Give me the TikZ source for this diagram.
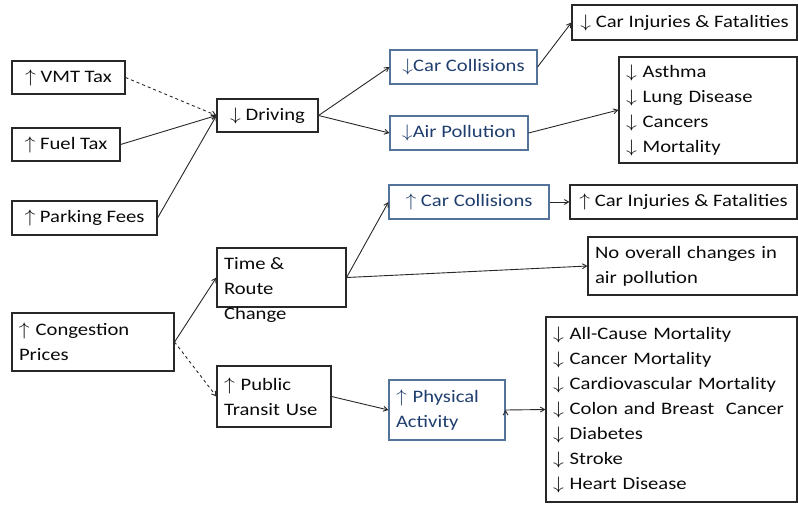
\documentclass[tikz,border=0pt]{standalone}
\usepackage{fontspec}
\setmainfont{Carlito}[FakeStretch=1.18]
\usetikzlibrary{arrows}
\definecolor{linegray}{RGB}{40,40,40}
\definecolor{textblack}{RGB}{10,10,10}
\definecolor{blueline}{RGB}{84,115,155}
\definecolor{bluetext}{RGB}{31,62,110}
\newcommand{\upar}{\scalebox{1.25}[1.05]{$\uparrow$}}
\newcommand{\dnar}{\scalebox{1.25}[1.05]{$\downarrow$}}
\tikzstyle{every picture}+=[>=angle 60]
\tikzstyle{every picture}+=[line width=1.1pt]
\tikzstyle{box}=[draw=linegray, inner xsep=7pt, inner ysep=0pt]
\tikzstyle{box}+=[text=textblack, font=\fontsize{17.5}{25}\selectfont]
\tikzstyle{bluebox}=[box, draw=blueline, text=bluetext]
\tikzstyle{list}=[box, align=left]
\tikzstyle{link}=[->, draw=linegray, line width=0.9pt]

\begin{document}
\begin{tikzpicture}[x=1pt,y=-1pt]
\useasboundingbox (0,0) rectangle (798,504);
% pricing policies
\node[box, minimum width=113, minimum height=33] (vmt) at (68.5,77.5) {\upar\ VMT Tax};
\node[box, minimum width=108, minimum height=33] (fuel) at (66,144.5) {\upar\ Fuel Tax};
\node[box, minimum width=145, minimum height=34] (park) at (84.5,218) {\upar\ Parking Fees};
\node[list, text width=148, minimum height=58] (cong) at (93,342) {\upar\ Congestion\\Prices};

% driving branch
\node[box, minimum width=101, minimum height=33] (drive) at (267.5,115.5) {\dnar\ Driving};
\node[bluebox, minimum width=147, minimum height=34] (collA) at (463.5,67) {\dnar Car Collisions};
\node[bluebox, minimum width=138, minimum height=34] (airA) at (459,133) {\dnar Air Pollution};
\node[box, minimum width=225, minimum height=35] (injA) at (684.5,22.5) {\dnar\ Car Injuries \& Fatalities};
\node[list, text width=164, minimum height=106] (lungs) at (708,110)
  {\dnar\ Asthma\\\dnar\ Lung Disease\\\dnar\ Cancers\\\dnar\ Mortality};

% congestion branch
\node[box, minimum height=59] (trc) at (281.5,277.5)
  {\parbox[c][40pt][t]{115pt}{Time \&\\Route\\Change}};
\node[bluebox, minimum width=160, minimum height=34] (collB) at (469,202) {\upar\ Car Collisions};
\node[box, minimum width=227, minimum height=34] (injB) at (683.5,202) {\upar\ Car Injuries \& Fatalities};
\node[list, text width=195, minimum height=58] (noair) at (692.5,266) {No overall changes in\\air pollution};
\node[list, text width=100, minimum height=61] (pt) at (274,396.5) {\upar\ Public\\Transit Use};
\node[list, bluebox, text width=102, minimum height=60] (phys) at (447,410) {\upar\ Physical\\Activity};
\node[list, text width=237, minimum height=185] (health) at (671.5,409.5)
  {\dnar\ All-Cause Mortality\\\dnar\ Cancer Mortality\\\dnar\ Cardiovascular Mortality\\
   \dnar\ Colon and Breast\ \ Cancer\\\dnar\ Diabetes\\\dnar\ Stroke\\\dnar\ Heart Disease};

\path[link]
  (vmt.east) edge[dashed] (drive.west)
  (fuel.east) edge (drive.west)
  (park.east) edge (drive.west)
  (drive.east) edge (collA.west)
  (drive.east) edge (airA.west)
  (collA.east) edge (injA.west)
  (airA.east) edge (lungs.west)
  (cong.east) edge (trc.west)
  (cong.east) edge[dashed] (pt.west)
  (trc.east) edge (collB.west)
  (trc.east) edge (noair.west)
  (collB.east) edge (injB.west)
  (pt.east) edge (phys.west)
  (phys.east) edge (health.west)
  ;
\end{tikzpicture}
\end{document}
